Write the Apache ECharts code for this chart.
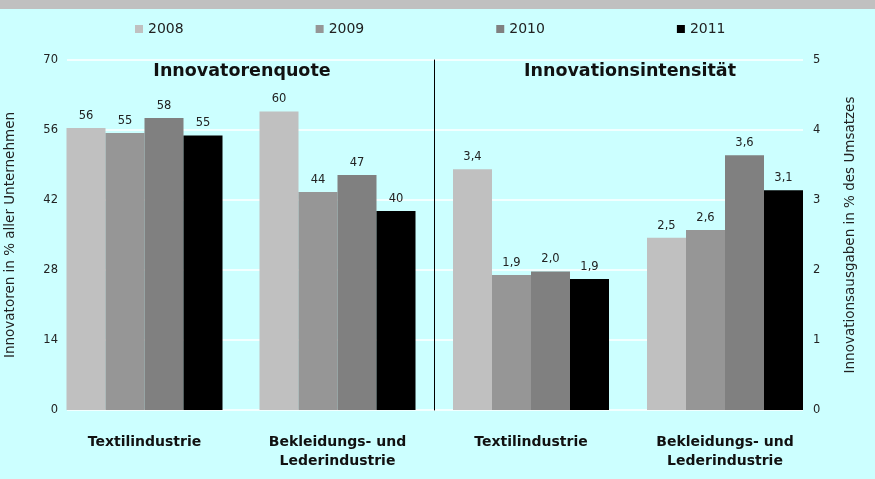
<!DOCTYPE html>
<html>
  <head>
    <meta charset="utf-8" />
    <script src="https://cdn.jsdelivr.net/npm/echarts@6.0.0/dist/echarts.min.js"></script>
    <style>
      body { margin: 0; background: #ccffff; }
    </style>
  </head>
  <body>
    <div id="main" style="width: 875px; height: 479px"></div>

    <script type="text/javascript">
      // data
      const years = ["2008", "2009", "2010", "2011"];
      const branches = ["Textilindustrie", "Bekleidungs- und\nLederindustrie"];
      // Innovatorenquote, % aller Unternehmen [Textil, Bekleidung]
      const quote2008 = [56.4, 59.7];
      const quote2009 = [55.4, 43.6];
      const quote2010 = [58.4, 47.0];
      const quote2011 = [54.9, 39.8];
      // Innovationsintensitaet, % des Umsatzes
      const intens2008 = [3.44, 2.46];
      const intens2009 = [1.93, 2.57];
      const intens2010 = [1.98, 3.64];
      const intens2011 = [1.87, 3.14];
      const leftTicks = { min: 0, max: 70, interval: 14 };
      const rightTicks = { min: 0, max: 5, interval: 1 };
      const colors = ["#c0c0c0", "#969696", "#808080", "#000000"];

      const quoteData = [quote2008, quote2009, quote2010, quote2011];
      const intensData = [intens2008, intens2009, intens2010, intens2011];

      const font = "DejaVu Sans";
      const txt = "#222";

      const labelStyle = {
        show: true,
        position: "top",
        distance: 6,
        fontFamily: font,
        fontSize: 11.5,
        color: txt,
      };

      const series = [];
      years.forEach((y, i) => {
        series.push({
          name: y,
          type: "bar",
          xAxisIndex: 1,
          yAxisIndex: 2,
          data: quoteData[i],
          barWidth: 39,
          barGap: 0,
          itemStyle: { color: colors[i] },
          label: Object.assign({}, labelStyle, {
            formatter: (p) => String(Math.round(p.value)),
          }),
        });
      });
      years.forEach((y, i) => {
        series.push({
          name: y,
          type: "bar",
          xAxisIndex: 2,
          yAxisIndex: 3,
          data: intensData[i],
          barWidth: 39,
          barGap: 0,
          itemStyle: { color: colors[i] },
          label: Object.assign({}, labelStyle, {
            formatter: (p) => p.value.toFixed(1).replace(".", ","),
          }),
        });
      });

      const catAxis = (gridIndex) => ({
        type: "category",
        gridIndex: gridIndex,
        data: branches,
        axisLine: { show: false },
        axisTick: { show: false },
        axisLabel: {
          margin: 23,
          fontFamily: font,
          fontSize: 14,
          fontWeight: "bold",
          color: "#111",
          lineHeight: 19,
          interval: 0,
        },
      });

      var option = {
        backgroundColor: "#ccffff",
        animation: false,
        graphic: [
          {
            type: "rect",
            left: 0,
            top: 0,
            shape: { width: 875, height: 9 },
            style: { fill: "#c0c0c0" },
          },
        ],
        title: [
          {
            text: "Innovatorenquote",
            left: 237,
            top: 57,
            textAlign: "center",
            textStyle: { fontFamily: font, fontSize: 17.5, fontWeight: "bold", color: "#111" },
          },
          {
            text: "Innovationsintensität",
            left: 625,
            top: 57,
            textAlign: "center",
            textStyle: { fontFamily: font, fontSize: 17.5, fontWeight: "bold", color: "#111" },
          },
        ],
        legend: {
          data: years,
          left: 135,
          top: 22,
          padding: 0,
          itemWidth: 8,
          itemHeight: 8,
          itemGap: 132,
          icon: "rect",
          textStyle: { fontFamily: font, fontSize: 14, color: txt },
        },
        grid: [
          { left: 67, right: 72, top: 60, height: 350, outerBoundsMode: "none" },
          { left: 48, width: 386, top: 60, height: 350, outerBoundsMode: "none" },
          { left: 434, width: 388, top: 60, height: 350, outerBoundsMode: "none" },
        ],
        xAxis: [
          { type: "value", gridIndex: 0, show: false, min: 0, max: 1 },
          catAxis(1),
          catAxis(2),
        ],
        yAxis: [
          {
            type: "value",
            gridIndex: 0,
            position: "left",
            min: leftTicks.min,
            max: leftTicks.max,
            interval: leftTicks.interval,
            name: "Innovatoren in % aller Unternehmen",
            nameLocation: "middle",
            nameGap: 50,
            nameTextStyle: { fontFamily: font, fontSize: 13.5, color: txt },
            axisLine: { show: false },
            axisTick: { show: false },
            axisLabel: { fontFamily: font, fontSize: 11.5, color: txt, margin: 9 },
            splitLine: { show: true, lineStyle: { color: "#ffffff", width: 1.5 } },
          },
          {
            type: "value",
            gridIndex: 0,
            position: "right",
            min: rightTicks.min,
            max: rightTicks.max,
            interval: rightTicks.interval,
            name: "Innovationsausgaben in % des Umsatzes",
            nameLocation: "middle",
            nameGap: 40,
            nameRotate: 90,
            nameTextStyle: { fontFamily: font, fontSize: 13.5, color: txt },
            axisLine: { show: false },
            axisTick: { show: false },
            axisLabel: { fontFamily: font, fontSize: 11.5, color: txt, margin: 10 },
            splitLine: { show: false },
          },
          {
            type: "value",
            gridIndex: 1,
            min: leftTicks.min,
            max: leftTicks.max,
            show: false,
          },
          {
            type: "value",
            gridIndex: 2,
            position: "left",
            min: rightTicks.min,
            max: rightTicks.max,
            axisLine: { show: true, lineStyle: { color: "#000", width: 1 } },
            axisTick: { show: false },
            axisLabel: { show: false },
            splitLine: { show: false },
          },
        ],
        series: series,
      };

      const myChart = echarts.init(document.getElementById("main"));
      myChart.setOption(option);
    </script>
  </body>
</html>
